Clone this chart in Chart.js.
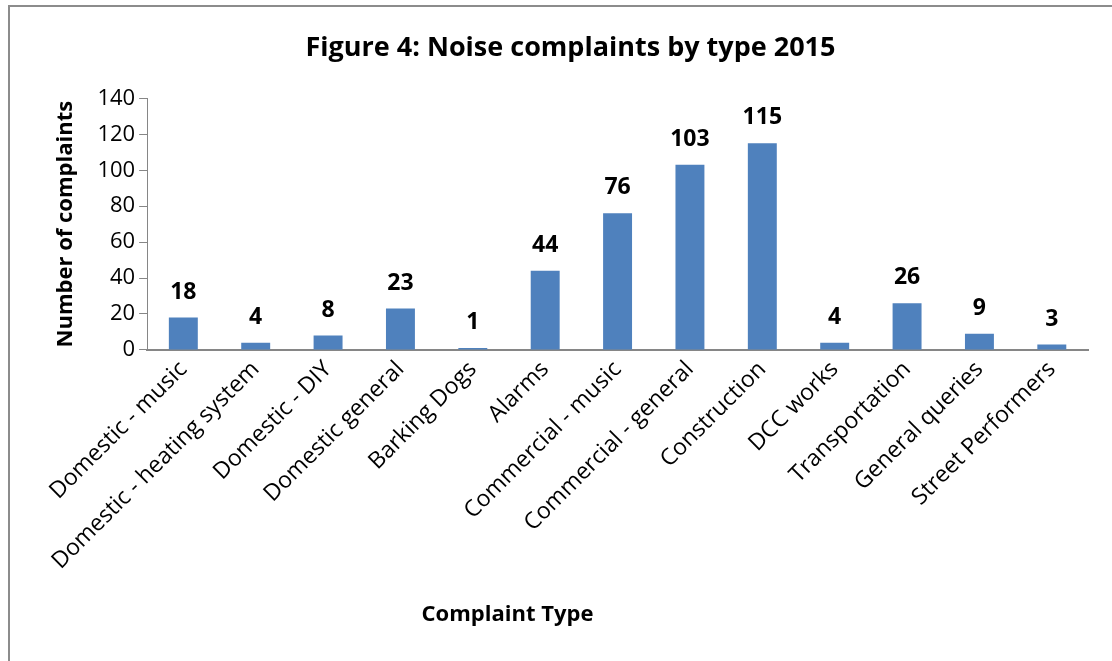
<!DOCTYPE html>
<html>
<head>
<meta charset="utf-8">
<script src="https://cdn.jsdelivr.net/npm/chart.js@4"></script>
<style>
  html, body { margin: 0; padding: 0; background: #fff; }
  .frame {
    position: absolute; left: 8px; top: 5px; width: 1200px; height: 800px;
    border-top: 2px solid #8c8c8c; border-left: 2px solid #8c8c8c;
  }
  .wrap { position: absolute; left: 0; top: 0; width: 1112px; height: 661px; }
</style>
</head>
<body>
<div class="frame"></div>
<div class="wrap"><canvas id="chart" width="1112" height="661"></canvas></div>
<script>
var categories = [
  'Domestic - music', 'Domestic - heating system', 'Domestic - DIY', 'Domestic general',
  'Barking Dogs', 'Alarms', 'Commercial - music', 'Commercial - general', 'Construction',
  'DCC works', 'Transportation', 'General queries', 'Street Performers'
];
var complaints = [18, 4, 8, 23, 1, 44, 76, 103, 115, 4, 26, 9, 3];
var yTicks = [0, 20, 40, 60, 80, 100, 120, 140];

var fontFamily = "'Open Sans', 'Liberation Sans', sans-serif";

// value labels above each bar
var barLabels = {
  id: 'barLabels',
  afterDatasetsDraw: function (chart) {
    var ctx = chart.ctx;
    var meta = chart.getDatasetMeta(0);
    ctx.save();
    ctx.font = 'bold 23px ' + fontFamily;
    ctx.fillStyle = '#000';
    ctx.textAlign = 'center';
    ctx.textBaseline = 'bottom';
    meta.data.forEach(function (bar, i) {
      ctx.fillText(String(complaints[i]), bar.x, bar.y - 14);
    });
    ctx.restore();
  }
};

// x axis title, placed like the original (left of centre)
var xTitle = {
  id: 'xTitle',
  afterDraw: function (chart) {
    var ctx = chart.ctx;
    var area = chart.chartArea;
    ctx.save();
    ctx.font = 'bold 22px ' + fontFamily;
    ctx.fillStyle = '#000';
    ctx.textAlign = 'center';
    ctx.textBaseline = 'middle';
    ctx.fillText('Complaint Type', area.left + (area.right - area.left) * 0.383, 615);
    ctx.restore();
  }
};

new Chart(document.getElementById('chart'), {
  type: 'bar',
  data: {
    labels: categories,
    datasets: [{
      label: 'Complaints',
      data: complaints,
      backgroundColor: '#4f81bd',
      borderWidth: 0,
      categoryPercentage: 1,
      barPercentage: 0.4
    }]
  },
  options: {
    responsive: false,
    animation: false,
    layout: { padding: { left: 53, right: 24, top: 32, bottom: 80 } },
    plugins: {
      legend: { display: false },
      tooltip: { enabled: false },
      title: {
        display: true,
        text: 'Figure 4: Noise complaints by type 2015',
        color: '#000',
        font: { family: fontFamily, size: 27, weight: 'bold' },
        padding: { top: 0, bottom: 34 }
      }
    },
    scales: {
      x: {
        grid: { display: false, drawTicks: false },
        border: { color: '#868686', width: 2 },
        ticks: {
          color: '#000',
          font: { family: fontFamily, size: 23 },
          minRotation: 45,
          maxRotation: 45,
          autoSkip: false,
          padding: 6
        }
      },
      y: {
        min: 0,
        max: 140,
        afterBuildTicks: function (scale) {
          scale.ticks = yTicks.map(function (v) { return { value: v }; });
        },
        grid: { drawOnChartArea: false, color: '#868686', tickLength: 8, lineWidth: 1 },
        border: { color: '#868686', width: 1 },
        ticks: {
          color: '#000',
          font: { family: fontFamily, size: 22 },
          padding: 4
        },
        title: {
          display: true,
          text: 'Number of complaints',
          color: '#000',
          font: { family: fontFamily, size: 22, weight: 'bold' },
          padding: { top: 0, bottom: 14 }
        }
      }
    }
  },
  plugins: [barLabels, xTitle]
});
</script>
</body>
</html>
